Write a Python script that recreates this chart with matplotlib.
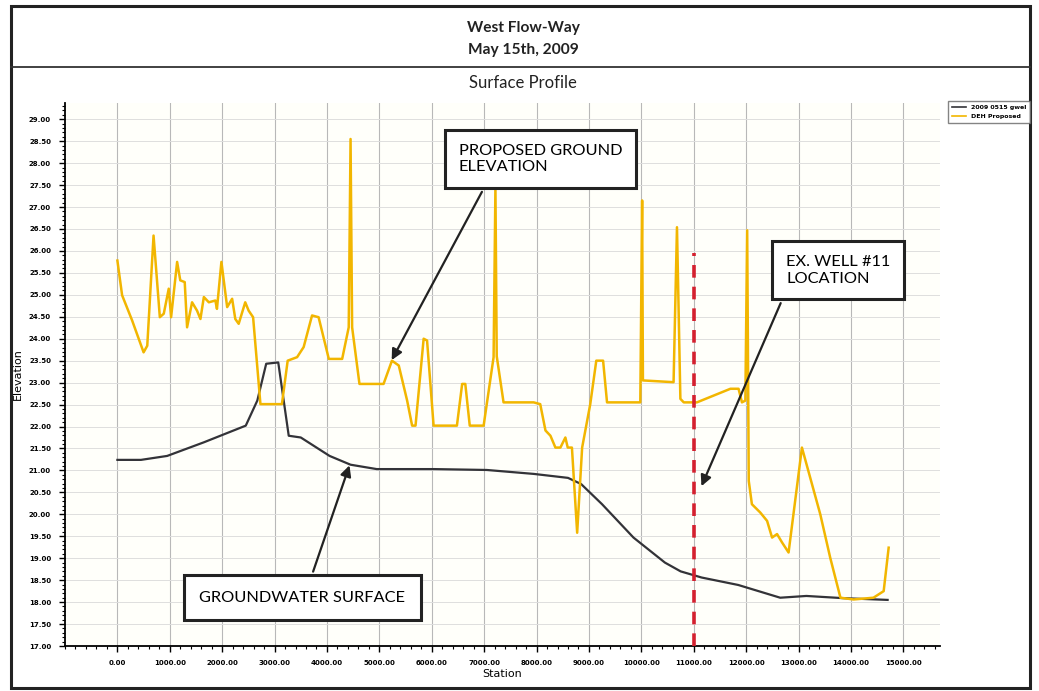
import matplotlib
matplotlib.use("Agg")
import matplotlib.pyplot as plt
from matplotlib.patches import Rectangle
from matplotlib.lines import Line2D
from matplotlib.ticker import MultipleLocator, FormatStrFormatter

# ---------------- data ----------------
gw_station = [0, 450, 950, 1650, 2450, 2670, 2840, 3070, 3270, 3500, 4050, 4450,
              4950, 6050, 7050, 7950, 8600, 8850, 9250, 9850, 10450, 10750, 11150,
              11850, 12650, 13150, 13850, 14700]
gw_elev = [21.24, 21.24, 21.33, 21.64, 22.02, 22.59, 23.43, 23.46, 21.79, 21.75, 21.33,
           21.13, 21.03, 21.03, 21.01, 20.92, 20.83, 20.69, 20.23, 19.47, 18.90, 18.70,
           18.56, 18.39, 18.10, 18.14, 18.09, 18.05]

prop_station = [0, 90, 280, 500, 570, 690, 810, 885, 980, 1025, 1140, 1200, 1285, 1330,
                1425, 1520, 1585, 1650, 1745, 1870, 1900, 1985, 2095, 2190, 2250, 2315,
                2440, 2505, 2590, 2730, 3140, 3250, 3430, 3555, 3715, 3840, 4035, 4290,
                4415, 4450, 4480, 4620, 5080, 5240, 5370, 5530, 5625, 5690, 5845, 5910,
                6035, 6480, 6580, 6640, 6725, 6990, 7180, 7215, 7240, 7370, 7945, 8070,
                8170, 8265, 8360, 8455, 8550, 8595, 8675, 8775, 8870, 9025, 9140, 9270,
                9345, 9980, 10015, 10030, 10615, 10680, 10745, 10810, 11060, 11700, 11855,
                11920, 11985, 12020, 12050, 12110, 12270, 12400, 12495, 12590, 12685,
                12810, 13065, 13415, 13605, 13800, 14050, 14430, 14625, 14720]
prop_elev = [25.78, 24.99, 24.42, 23.69, 23.84, 26.35, 24.49, 24.57, 25.14, 24.49, 25.75,
             25.33, 25.29, 24.26, 24.83, 24.64, 24.45, 24.95, 24.83, 24.87, 24.68, 25.75,
             24.72, 24.91, 24.45, 24.34, 24.83, 24.64, 24.49, 22.51, 22.51, 23.50, 23.58,
             23.81, 24.53, 24.49, 23.54, 23.54, 24.26, 28.55, 24.26, 22.97, 22.97, 23.50,
             23.39, 22.59, 22.02, 22.02, 24.00, 23.96, 22.02, 22.02, 22.97, 22.97, 22.02,
             22.02, 23.58, 27.45, 23.60, 22.55, 22.55, 22.51, 21.91, 21.79, 21.52, 21.52,
             21.75, 21.52, 21.52, 19.58, 21.52, 22.51, 23.50, 23.50, 22.55, 22.55, 27.15,
             23.05, 23.01, 26.54, 22.63, 22.55, 22.55, 22.86, 22.86, 22.55, 22.59, 26.47,
             20.76, 20.23, 20.04, 19.85, 19.47, 19.55, 19.36, 19.13, 21.52, 20.00, 19.01,
             18.10, 18.06, 18.10, 18.25, 19.24]

well_station = 11000
well_top = 25.95

series_labels = ["2009 0515 gwel", "DEH Proposed"]
title_lines = ["West Flow-Way", "May 15th, 2009"]
subtitle = "Surface Profile"

W, H = 1039, 691
fig = plt.figure(figsize=(W / 100, H / 100), dpi=100)
fig.patch.set_facecolor("white")

def fx(px):
    return px / W

def fy(py):
    return 1 - py / H

ax = fig.add_axes([fx(65), fy(646), fx(940) - fx(65), fy(103) - fy(646)])
ax.set_facecolor("#fffffa")

ax.plot(gw_station, gw_elev, color="#333338", lw=1.6, zorder=3)
ax.plot(prop_station, prop_elev, color="#F2B600", lw=1.8, zorder=4)
ax.plot([well_station, well_station], [17.0, well_top], color="#D4202F", lw=2.6,
        dashes=(3.5, 2.5), zorder=5)

ax.set_xlim(-1000, 15700)
ax.set_ylim(17.0, 29.37)
ax.xaxis.set_major_locator(MultipleLocator(1000))
ax.xaxis.set_minor_locator(MultipleLocator(200))
ax.yaxis.set_major_locator(MultipleLocator(0.5))
ax.yaxis.set_minor_locator(MultipleLocator(0.1))
ax.xaxis.set_major_formatter(FormatStrFormatter("%.2f"))
ax.yaxis.set_major_formatter(FormatStrFormatter("%.2f"))
ax.set_xticks([t for t in range(0, 15001, 1000)])
for lab in ax.get_xticklabels() + ax.get_yticklabels():
    lab.set_fontsize(5)
    lab.set_fontweight("bold")
ax.tick_params(axis="both", which="major", length=4, width=1, direction="out", pad=6)
ax.tick_params(axis="both", which="minor", length=2, width=0.8, direction="out")
ax.grid(True, which="major", axis="x", color="#b8b8b8", lw=0.8)
ax.grid(True, which="major", axis="y", color="#dedede", lw=0.7)
for s in ["top", "right"]:
    ax.spines[s].set_visible(False)
ax.spines["left"].set_linewidth(1.3)
ax.spines["bottom"].set_linewidth(1.3)

ax.set_xlabel("Station", fontsize=8, labelpad=2)
ax.set_ylabel("Elevation", fontsize=8, labelpad=4)

# annotations
box = dict(boxstyle="square,pad=0.85", fc="white", ec="#222222", lw=2.2)
arrow = dict(arrowstyle="-|>", color="#222222", lw=1.6, mutation_scale=16)

def dx(px):
    return (px - 117) / 52.4 * 1000

def dy(py):
    return 17 + (645 - py) / 43.83

ax.annotate("PROPOSED GROUND\nELEVATION", xy=(dx(390), dy(362)), xytext=(dx(540), dy(159)),
            ha="center", va="center", multialignment="left", fontsize=11.8,
            family="Lato", bbox=box, zorder=10,
            arrowprops=dict(arrow, relpos=(0.2, 0.0)))
ax.annotate("EX. WELL #11\nLOCATION", xy=(dx(700), dy(488)), xytext=(dx(838), dy(270)),
            ha="center", va="center", multialignment="left", fontsize=11.8,
            family="Lato", bbox=box, zorder=10,
            arrowprops=dict(arrow, relpos=(0.02, 0.0)))
ax.annotate("GROUNDWATER SURFACE", xy=(dx(350), dy(462)), xytext=(dx(302), dy(597)),
            ha="center", va="center", fontsize=11.8,
            family="Lato", bbox=dict(box, boxstyle="square,pad=0.95"), zorder=10,
            arrowprops=dict(arrow, relpos=(0.52, 1.0)))

# legend
handles = [Line2D([], [], color="#333338", lw=1.2), Line2D([], [], color="#F2B600", lw=1.2)]
leg = fig.legend(handles, series_labels, loc="upper left",
                 bbox_to_anchor=(fx(945), fy(98)), fontsize=4.5, frameon=True,
                 handlelength=2.2, borderpad=0.6, labelspacing=0.6, fancybox=False,
                 edgecolor="#666666")
for t in leg.get_texts():
    t.set_fontweight("bold")

# titles
fig.text(fx(523), fy(28), title_lines[0], ha="center", va="center", fontsize=11.2,
         fontweight="bold", family="Lato", color="#222222")
fig.text(fx(523), fy(50), title_lines[1], ha="center", va="center", fontsize=11.2,
         fontweight="bold", family="Lato", color="#222222")
fig.text(fx(523), fy(83), subtitle, ha="center", va="center", fontsize=12,
         family="Lato", color="#222222")

# frames
fig.add_artist(Rectangle((fx(11), fy(688)), fx(1030) - fx(11), fy(6) - fy(688),
                         transform=fig.transFigure, fill=False, ec="#222222", lw=2.2))
fig.add_artist(Line2D([fx(11), fx(1030)], [fy(67), fy(67)], transform=fig.transFigure,
                      color="#333333", lw=1.3))

fig.savefig("out.png", dpi=100)
